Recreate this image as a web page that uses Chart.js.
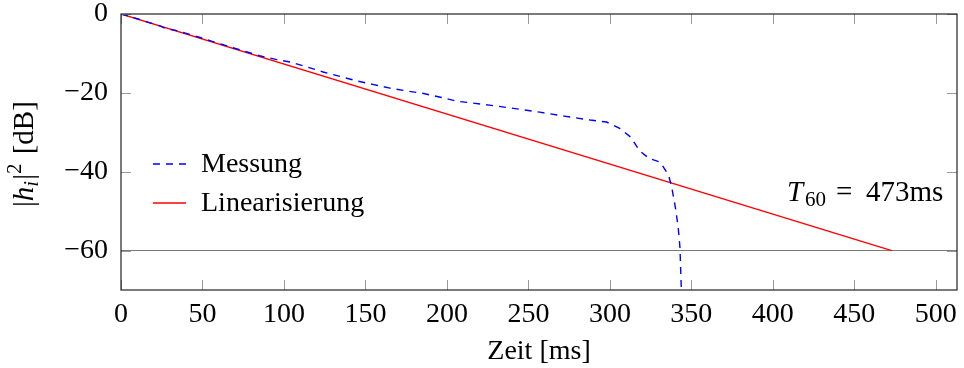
<!DOCTYPE html>
<html>
<head>
<meta charset="utf-8">
<script src="https://cdn.jsdelivr.net/npm/chart.js@4/dist/chart.umd.min.js"></script>
<style>
  html, body { margin: 0; padding: 0; background: #fff; }
  #wrap { width: 964px; height: 368px; }
</style>
</head>
<body>
<div id="wrap"><canvas id="chart" width="964" height="368"></canvas></div>
<script>
// data
const zeitMs = [0, 5, 10, 15, 20, 25, 28, 33, 40, 48, 55, 65, 73, 85, 95, 104, 114, 124, 135, 145, 155, 165, 175, 185, 196, 206, 216, 226, 242, 257, 272, 288, 298, 306, 313, 318, 324, 331, 336, 338, 340.5, 342, 343, 344];
const messungDb = [0, -0.6, -1.2, -1.9, -2.5, -3.2, -3.8, -4.1, -4.9, -5.9, -6.8, -8.1, -9.1, -10.6, -11.5, -12.2, -13.4, -14.7, -15.9, -17.0, -17.9, -18.8, -19.5, -20.1, -21.1, -22.1, -22.6, -23.1, -24.0, -24.9, -25.9, -26.9, -27.4, -29.0, -31.3, -34.6, -36.6, -37.6, -40.9, -44.0, -49.8, -54.5, -59.2, -72];
const linZeit = [0, 473];
const linDb = [0, -60];
const refZeit = [0, 513];
const refDb = [-60, -60];
const xTicks = [0, 50, 100, 150, 200, 250, 300, 350, 400, 450, 500];
const yTicks = [0, -20, -40, -60];
const seriesNames = ['Messung', 'Linearisierung'];
const t60Label = '473ms';

const SERIF = '"Liberation Serif", "DejaVu Serif", serif';
const pts = (xs, ys) => xs.map((x, i) => ({ x: x, y: ys[i] }));
const fmt = v => v < 0 ? '\u2212' + Math.abs(v) : String(v);

const frame = {
    id: 'frame',
    afterDatasetsDraw(chart) {
        const ctx = chart.ctx, a = chart.chartArea;
        const xs = chart.scales.x, ys = chart.scales.y;
        ctx.save();
        // inward ticks, pgfplots style
        ctx.strokeStyle = '#9a9a9a';
        ctx.lineWidth = 1;
        ctx.beginPath();
        xTicks.forEach(v => {
            const px = Math.round(xs.getPixelForValue(v)) + 0.5;
            ctx.moveTo(px, a.bottom); ctx.lineTo(px, a.bottom - 10);
            ctx.moveTo(px, a.top); ctx.lineTo(px, a.top + 10);
        });
        yTicks.forEach(v => {
            const py = Math.round(ys.getPixelForValue(v)) + 0.5;
            ctx.moveTo(a.left, py); ctx.lineTo(a.left + 10, py);
            ctx.moveTo(a.right, py); ctx.lineTo(a.right - 10, py);
        });
        ctx.stroke();
        // box
        ctx.strokeStyle = '#222';
        ctx.lineWidth = 1.2;
        ctx.strokeRect(a.left, a.top, a.right - a.left, a.bottom - a.top);
        ctx.restore();
    },
    afterDraw(chart) {
        const ctx = chart.ctx;
        const ds = chart.data.datasets;
        ctx.save();
        // legend
        const rows = [{ d: ds[0], y: 164 }, { d: ds[1], y: 203 }];
        rows.forEach((r, i) => {
            ctx.strokeStyle = r.d.borderColor;
            ctx.lineWidth = r.d.borderWidth;
            ctx.setLineDash(r.d.borderDash || []);
            ctx.beginPath();
            ctx.moveTo(153, r.y); ctx.lineTo(186, r.y);
            ctx.stroke();
            ctx.setLineDash([]);
            ctx.fillStyle = '#000';
            ctx.font = '28px ' + SERIF;
            ctx.textBaseline = 'alphabetic';
            ctx.textAlign = 'left';
            ctx.fillText(seriesNames[i], 201, r.y + 8);
        });

        // T60 annotation
        ctx.fillStyle = '#000';
        ctx.textBaseline = 'alphabetic';
        ctx.font = 'italic 29px ' + SERIF;
        ctx.fillText('T', 787, 201);
        ctx.font = '21px ' + SERIF;
        ctx.fillText('60', 805, 206);
        ctx.font = '29px ' + SERIF;
        ctx.fillText('=', 836, 201);
        ctx.fillText(t60Label, 866, 201);

        // y axis title, rotated
        ctx.translate(33, 207);
        ctx.rotate(-Math.PI / 2);
        let x = 0;
        const put = (txt, font, dy) => {
            ctx.font = font;
            ctx.fillText(txt, x, dy);
            x += ctx.measureText(txt).width;
        };
        put('|', '29px ' + SERIF, 0);
        put('h', 'italic 29px ' + SERIF, 0);
        put('i', 'italic 21px ' + SERIF, 5);
        x += 1;
        put('|', '29px ' + SERIF, 0);
        put('2', '21px ' + SERIF, -12);
        x += 2;
        put(' [dB]', '29px ' + SERIF, 0);
        ctx.restore();
    }
};

new Chart(document.getElementById('chart'), {
    type: 'line',
    data: {
        datasets: [
            {
                label: seriesNames[0],
                data: pts(zeitMs, messungDb),
                borderColor: '#0000ff',
                borderWidth: 1.4,
                borderDash: [7, 6],
                pointRadius: 0,
                tension: 0,
                clip: 0
            },
            {
                label: seriesNames[1],
                data: pts(linZeit, linDb),
                borderColor: '#ff0000',
                borderWidth: 1.4,
                pointRadius: 0,
                tension: 0
            },
            {
                label: 'ref',
                data: pts(refZeit, refDb),
                borderColor: '#7a7a7a',
                borderWidth: 1.1,
                pointRadius: 0,
                tension: 0
            }
        ]
    },
    options: {
        responsive: false,
        animation: false,
        events: [],
        layout: { padding: { top: 14, right: 7, left: 0, bottom: 0 } },
        plugins: {
            legend: { display: false },
            tooltip: { enabled: false }
        },
        scales: {
            x: {
                type: 'linear',
                min: 0,
                max: 513,
                afterBuildTicks: s => { s.ticks = xTicks.map(v => ({ value: v })); },
                afterFit: s => { s.height = 78; s.paddingLeft = 0; s.paddingRight = 0; },
                grid: { display: false, drawTicks: false },
                border: { display: false },
                ticks: {
                    color: '#000',
                    padding: 8,
                    maxRotation: 0,
                    autoSkip: false,
                    font: { family: SERIF, size: 28 },
                    callback: fmt
                },
                title: {
                    display: true,
                    text: 'Zeit [ms]',
                    color: '#000',
                    font: { family: SERIF, size: 28 },
                    padding: { top: 0, bottom: 0 }
                }
            },
            y: {
                type: 'linear',
                min: -70,
                max: 0,
                afterBuildTicks: s => { s.ticks = yTicks.map(v => ({ value: v })); },
                afterFit: s => { s.width = 121; s.paddingTop = 0; s.paddingBottom = 0; },
                grid: { display: false, drawTicks: false },
                border: { display: false },
                ticks: {
                    color: '#000',
                    padding: 13,
                    autoSkip: false,
                    font: { family: SERIF, size: 28 },
                    callback: fmt
                }
            }
        }
    },
    plugins: [frame]
});
</script>
</body>
</html>
